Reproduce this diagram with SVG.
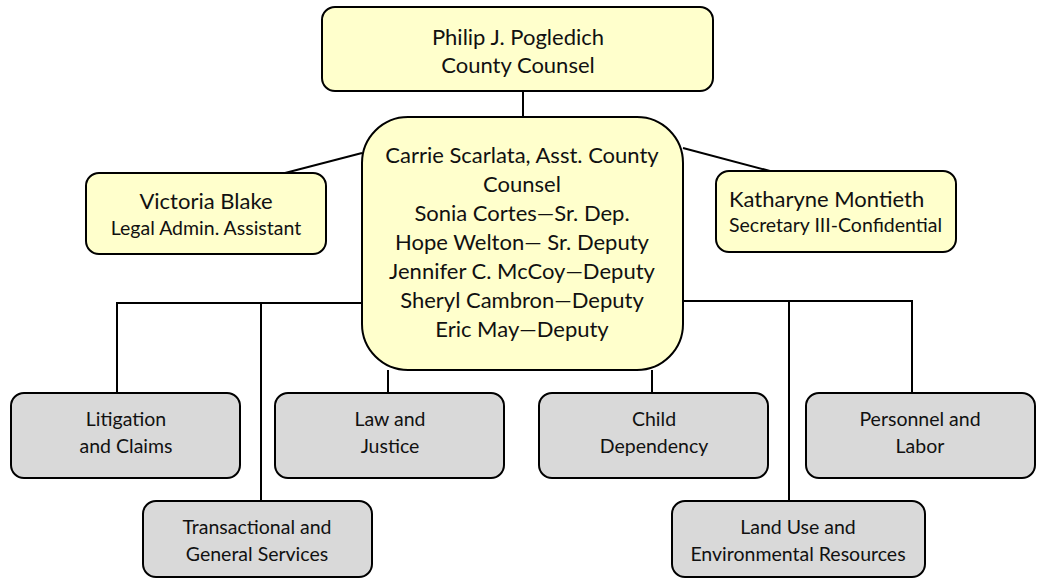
<svg xmlns="http://www.w3.org/2000/svg" width="1041" height="583" viewBox="0 0 1041 583">
  <style>
    .box { stroke: #000; stroke-width: 2; }
    .staff { fill: #FFFFCC; }
    .unit { fill: #D9D9D9; }
    .wire { fill: none; stroke: #000; stroke-width: 2; }
    text { font-family: Lato, "Liberation Sans", sans-serif; fill: #111; }
    .c { text-anchor: middle; }
    .big { font-size: 22px; }
    .mid { font-size: 19.5px; }
  </style>

  <!-- reporting lines -->
  <g id="connectors">
    <line class="wire" x1="523" y1="91" x2="523" y2="117"/>
    <line class="wire" x1="362" y1="153" x2="285" y2="173"/>
    <line class="wire" x1="683" y1="148" x2="770" y2="171"/>
    <polyline class="wire" points="117,393 117,303 362,303"/>
    <line class="wire" x1="261" y1="303" x2="261" y2="501"/>
    <polyline class="wire" points="683,301 912,301 912,393"/>
    <line class="wire" x1="789" y1="301" x2="789" y2="501"/>
    <line class="wire" x1="388" y1="370" x2="388" y2="393"/>
    <line class="wire" x1="652" y1="370" x2="652" y2="393"/>
  </g>

  <g id="county-counsel">
    <rect class="box staff" x="322" y="7" width="391" height="84" rx="13"/>
    <text class="c big" x="518" y="45">Philip J. Pogledich</text>
    <text class="c big" x="518" y="73">County Counsel</text>
  </g>

  <g id="assistant-counsel">
    <rect class="box staff" x="362" y="117" width="321" height="253" rx="46"/>
    <text class="c big" x="522" y="163">Carrie Scarlata, Asst. County</text>
    <text class="c big" x="522" y="192">Counsel</text>
    <text class="c big" x="522" y="221">Sonia Cortes—Sr. Dep.</text>
    <text class="c big" x="522" y="250">Hope Welton— Sr. Deputy</text>
    <text class="c big" x="522" y="279">Jennifer C. McCoy—Deputy</text>
    <text class="c big" x="522" y="308">Sheryl Cambron—Deputy</text>
    <text class="c big" x="522" y="337">Eric May—Deputy</text>
  </g>

  <g id="legal-admin">
    <rect class="box staff" x="86" y="173" width="240" height="81" rx="13"/>
    <text class="c big" x="206" y="209">Victoria Blake</text>
    <text class="c mid" x="206" y="235">Legal Admin. Assistant</text>
  </g>

  <g id="secretary">
    <rect class="box staff" x="716" y="171" width="240" height="81" rx="13"/>
    <text class="big" x="729" y="207">Katharyne Montieth</text>
    <text class="mid" x="729" y="232">Secretary III-Confidential</text>
  </g>

  <g id="litigation">
    <rect class="box unit" x="11" y="393" width="229" height="85" rx="13"/>
    <text class="c mid" x="126" y="426">Litigation</text>
    <text class="c mid" x="126" y="453">and Claims</text>
  </g>

  <g id="law-justice">
    <rect class="box unit" x="275" y="393" width="229" height="85" rx="13"/>
    <text class="c mid" x="390" y="426">Law and</text>
    <text class="c mid" x="390" y="453">Justice</text>
  </g>

  <g id="child-dependency">
    <rect class="box unit" x="539" y="393" width="229" height="85" rx="13"/>
    <text class="c mid" x="654" y="426">Child</text>
    <text class="c mid" x="654" y="453">Dependency</text>
  </g>

  <g id="personnel-labor">
    <rect class="box unit" x="806" y="393" width="229" height="85" rx="13"/>
    <text class="c mid" x="920" y="426">Personnel and</text>
    <text class="c mid" x="920" y="453">Labor</text>
  </g>

  <g id="transactional">
    <rect class="box unit" x="143" y="501" width="229" height="76" rx="13"/>
    <text class="c mid" x="257" y="534">Transactional and</text>
    <text class="c mid" x="257" y="561">General Services</text>
  </g>

  <g id="land-use">
    <rect class="box unit" x="672" y="501" width="253" height="76" rx="13"/>
    <text class="c mid" x="798" y="534">Land Use and</text>
    <text class="c mid" x="798" y="561">Environmental Resources</text>
  </g>
</svg>
